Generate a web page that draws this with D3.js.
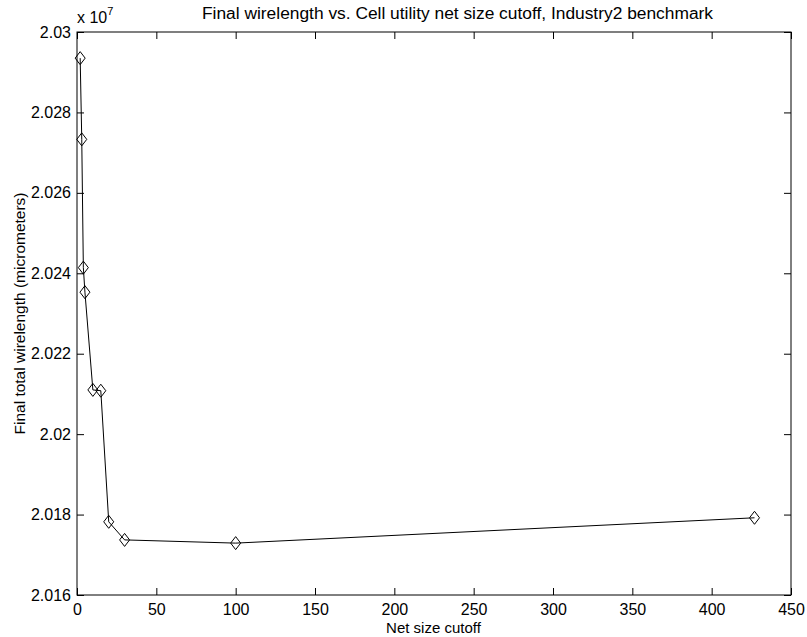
<!DOCTYPE html>
<html>
<head>
<meta charset="utf-8">
<script src="https://cdn.jsdelivr.net/npm/d3@7"></script>
<style>
body{margin:0;background:#fff;}
svg{display:block;font-family:"Liberation Sans",Arial,Helvetica,sans-serif;}
</style>
</head>
<body>
<div id="chart"></div>
<script>
// net size cutoff vs final wirelength (units of 1e7 micrometers)
const cutoffs = [2, 3, 4, 5, 10, 15, 20, 30, 100, 427];
const wirelength = [2.02935, 2.02733, 2.02414, 2.02353, 2.0211, 2.02108, 2.01782, 2.01737, 2.01729, 2.01792];
const xTicks = [0, 50, 100, 150, 200, 250, 300, 350, 400, 450];
const yTicks = [2.016, 2.018, 2.02, 2.022, 2.024, 2.026, 2.028, 2.03];

const width = 807;
const height = 637;
const mLeft = 77, mRight = 791, mTop = 32, mBottom = 595;
const tickLen = 7;
const fs = "16px";

const svg = d3.select("#chart")
    .append("svg")
    .attr("width",width)
    .attr("height",height);

const x = d3.scaleLinear().domain([0,450]).range([mLeft,mRight]);
const y = d3.scaleLinear().domain([2.016,2.03]).range([mBottom,mTop]);

const fmt = d => String(+d.toFixed(3));

// box
svg.append("rect")
    .attr("x",mLeft).attr("y",mTop)
    .attr("width",mRight-mLeft).attr("height",mBottom-mTop)
    .attr("fill","none").attr("stroke","#000").attr("stroke-width",1);

// axes with inward ticks
const styleAxis = g => {
    g.select(".domain").remove();
    g.selectAll("line").attr("stroke","#000");
    g.selectAll("text").attr("fill","#000").style("font-size",fs);
};

svg.append("g")
    .attr("transform",`translate(0,${mBottom})`)
    .call(d3.axisBottom(x).tickValues(xTicks).tickSize(-tickLen).tickPadding(8.5).tickFormat(fmt))
    .call(styleAxis);

svg.append("g")
    .attr("transform",`translate(0,${mTop})`)
    .call(d3.axisTop(x).tickValues(xTicks).tickSize(-tickLen).tickFormat(""))
    .call(styleAxis);

svg.append("g")
    .attr("transform",`translate(${mLeft},0)`)
    .call(d3.axisLeft(y).tickValues(yTicks).tickSize(-tickLen).tickPadding(6).tickFormat(fmt))
    .call(styleAxis);

svg.append("g")
    .attr("transform",`translate(${mRight},0)`)
    .call(d3.axisRight(y).tickValues(yTicks).tickSize(-tickLen).tickFormat(""))
    .call(styleAxis);

// line
const pts = cutoffs.map((c,i)=>[c,wirelength[i]]);

svg.append("path")
    .datum(pts)
    .attr("fill","none")
    .attr("stroke","#000")
    .attr("stroke-width",1)
    .attr("d",d3.line().x(d=>x(d[0])).y(d=>y(d[1])));

// diamond markers
svg.selectAll(".mk")
    .data(pts)
    .enter()
    .append("path")
    .attr("class","mk")
    .attr("transform",d=>`translate(${x(d[0])},${y(d[1])})`)
    .attr("d","M0,-6.5L5,0L0,6.5L-5,0Z")
    .attr("fill","none")
    .attr("stroke","#000")
    .attr("stroke-width",1);

// exponent label
const ex = svg.append("text")
    .attr("x",mLeft).attr("y",23)
    .style("font-size",fs);
ex.append("tspan").text("x 10");
ex.append("tspan").attr("dy",-8).style("font-size","11px").text("7");

// title
svg.append("text")
    .attr("x",457.5).attr("y",18.5)
    .attr("text-anchor","middle")
    .attr("textLength",511)
    .attr("lengthAdjust","spacingAndGlyphs")
    .style("font-size",fs)
    .text("Final wirelength vs. Cell utility net size cutoff, Industry2 benchmark");

// axis labels
svg.append("text")
    .attr("x",433.5).attr("y",633)
    .attr("text-anchor","middle")
    .style("font-size","15px")
    .text("Net size cutoff");

svg.append("text")
    .attr("transform",`translate(25,${(mTop+mBottom)/2}) rotate(-90)`)
    .attr("text-anchor","middle")
    .style("font-size","15.5px")
    .text("Final total wirelength (micrometers)");
</script>
</body>
</html>
